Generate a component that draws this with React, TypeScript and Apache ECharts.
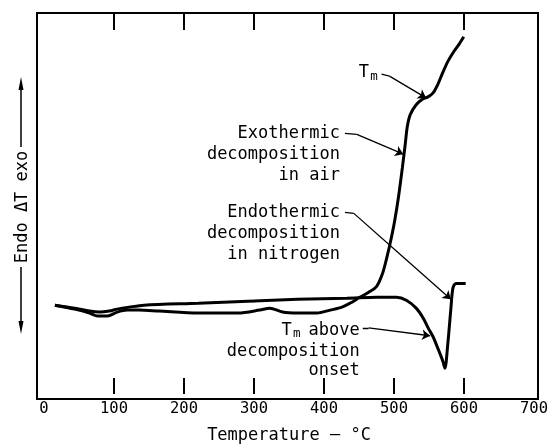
import { useEffect, useRef } from "react";
import * as echarts from "echarts";

// x axis: temperature (°C); y axis: ΔT (arbitrary units, no labels)
const xTickLabels = [0, 100, 200, 300, 400, 500, 600, 700];
const xTickMarks = [100, 200, 300, 400, 500, 600];

// Exothermic decomposition in air
const airCurve: [number, number][] = [
  [15.6, 90], [43.8, 86], [65.1, 82], [76.4, 79], [90.5, 79], [104.6, 83],
  [118.8, 85], [135.8, 85], [164, 84], [220.6, 82], [277.2, 82], [308.3, 85],
  [322.4, 87], [340.8, 83], [362, 82], [390.3, 82], [408.7, 85], [425.7, 88],
  [439.8, 93], [451.1, 98], [463.8, 103], [475.2, 109], [483.6, 122],
  [489.3, 137], [494.9, 154], [500.6, 174], [506.3, 199], [511.9, 229],
  [516.2, 254], [519, 271], [523.2, 283], [531.7, 293], [541.6, 299],
  [548.7, 301], [555.8, 305], [562.8, 314], [569.9, 326], [577, 337],
  [585.5, 347], [592.6, 354], [599.6, 362],
];

// Endothermic decomposition in nitrogen
const n2Curve: [number, number][] = [
  [15.6, 90], [43.8, 87], [65.1, 84], [79.2, 83], [93.3, 84], [104.6, 86],
  [121.6, 88], [142.8, 90], [220.6, 92], [291.3, 94], [362, 96], [432.7, 97],
  [475.2, 98], [503.4, 98], [517.6, 95], [531.7, 87], [541.6, 77],
  [548.7, 67], [555.8, 58], [562.8, 46], [569.9, 33], [572.7, 26],
  [577, 52], [581.2, 86], [584.1, 107], [588.3, 112], [595.4, 112], [602.4, 112],
];

// Leader lines (data coordinates): short dash, then arrow segment to the curve
const leaderTm: [number, number][] = [[482.2, 324], [493.5, 322], [545.9, 300]];
const leaderExo: [number, number][] = [[429.9, 264], [446.9, 263], [513.3, 243]];
const leaderEndo: [number, number][] = [[429.9, 184], [442.6, 183], [581.2, 96]];
const leaderOnset: [number, number][] = [[455.4, 67], [463.8, 67], [551.5, 59]];
const leaders = [leaderTm, leaderExo, leaderEndo, leaderOnset];

// Text blocks: right edge (°C), line centres (ΔT units)
const exoLines = ["Exothermic", "decomposition", "in air"];
const exoAnchor = { x: 422.8, ys: [265, 244, 223] };
const endoLines = ["Endothermic", "decomposition", "in nitrogen"];
const endoAnchor = { x: 422.8, ys: [185, 164, 143] };
const onsetLines = ["above", "decomposition", "onset"];
const onsetAnchor = { x: 451.1, ys: [66, 45, 25] };
const tmTopAnchor = { x: 449.7, y: 327 };

const FONT = "'DejaVu Sans Mono', monospace";
const FS = 17;
const CW = FS * 0.602;
const SUB = 12.5;

export default function App() {
  const ref = useRef<HTMLDivElement>(null);
  useEffect(() => {
    const chart = echarts.init(ref.current!, null, { renderer: "svg" });
    const tickStyle = { color: "#000", width: 2 };
    chart.setOption({
      animation: false,
      grid: { left: 44, right: 12, top: 13, bottom: 48 },
      xAxis: [
        {
          type: "value", min: 0, max: 700, interval: 100, position: "bottom",
          axisLine: { show: false },
          axisTick: { show: true, inside: true, length: 16, lineStyle: tickStyle, customValues: xTickMarks },
          axisLabel: { customValues: xTickLabels, color: "#000", fontFamily: FONT, fontSize: 15.5, margin: 6 },
          splitLine: { show: false },
          name: "Temperature — °C", nameLocation: "middle", nameGap: 31,
          nameTextStyle: { color: "#000", fontFamily: FONT, fontSize: FS },
        },
        {
          type: "value", min: 0, max: 700, interval: 100, position: "top",
          axisLine: { show: false },
          axisTick: { show: true, inside: true, length: 17, lineStyle: tickStyle, customValues: xTickMarks },
          axisLabel: { show: false },
          splitLine: { show: false },
        },
      ],
      yAxis: { type: "value", min: 0, max: 386, show: false },
      series: [
        { type: "line", data: airCurve, symbol: "none", smooth: 0.3, lineStyle: { color: "#000", width: 3 } },
        { type: "line", data: n2Curve, symbol: "none", smooth: 0.3, lineStyle: { color: "#000", width: 3 } },
        {
          type: "lines", coordinateSystem: "cartesian2d",
          data: leaders.map((c) => ({ coords: [c[0], c[1]] })),
          symbol: ["none", "none"],
          lineStyle: { color: "#000", width: 1.3, opacity: 1 },
        },
        {
          type: "lines", coordinateSystem: "cartesian2d",
          data: leaders.map((c) => ({ coords: [c[1], c[2]] })),
          symbol: ["none", "arrow"], symbolSize: 8,
          lineStyle: { color: "#000", width: 1.3, opacity: 1 },
        },
      ],
    });

    const px = (x: number, y: number) =>
      chart.convertToPixel({ xAxisIndex: 0, yAxisIndex: 0 }, [x, y]) as number[];

    const txt = (text: string, x: number, y: number, align: string, size = FS) => ({
      type: "text",
      x, y,
      style: {
        text, x: 0, y: 0, fill: "#000", fontFamily: FONT, fontSize: size,
        align, textAlign: align, verticalAlign: "middle", textVerticalAlign: "middle",
      },
    });

    const g: any[] = [];
    // frame
    g.push({ type: "rect", shape: { x: 37, y: 13, width: 501, height: 386 }, style: { fill: "none", stroke: "#000", lineWidth: 2 } });
    // y axis label with arrows
    g.push({ type: "line", shape: { x1: 21, y1: 86, x2: 21, y2: 147 }, style: { stroke: "#000", lineWidth: 1.5 } });
    g.push({ type: "polygon", shape: { points: [[21, 77], [18.5, 90], [23.5, 90]] }, style: { fill: "#000" } });
    g.push({ type: "line", shape: { x1: 21, y1: 267, x2: 21, y2: 325 }, style: { stroke: "#000", lineWidth: 1.5 } });
    g.push({ type: "polygon", shape: { points: [[21, 334], [18.5, 321], [23.5, 321]] }, style: { fill: "#000" } });
    g.push({ ...txt("Endo ΔT exo", 0, 0, "center"), x: 21, y: 207, rotation: Math.PI / 2 });

    const block = (lines: string[], a: { x: number; ys: number[] }) => {
      lines.forEach((l, i) => {
        const p = px(a.x, a.ys[i]);
        g.push(txt(l, p[0], p[1], "right"));
      });
    };
    block(exoLines, exoAnchor);
    block(endoLines, endoAnchor);
    block(onsetLines, onsetAnchor);
    // subscripted T_m in onset block
    const po = px(onsetAnchor.x, onsetAnchor.ys[0]);
    const mRight = po[0] - (onsetLines[0].length + 0.8) * CW;
    g.push(txt("m", mRight, po[1] + 4, "right", SUB));
    g.push(txt("T", mRight - SUB * 0.602 - 1.2, po[1], "right"));
    // top T_m
    const pt = px(tmTopAnchor.x, tmTopAnchor.y);
    g.push(txt("T", pt[0], pt[1], "left"));
    g.push(txt("m", pt[0] + CW + 1.2, pt[1] + 4, "left", SUB));

    chart.setOption({ graphic: g });
    return () => chart.dispose();
  }, []);
  return <div ref={ref} style={{ position: "fixed", left: 0, top: 0, width: 551, height: 447 }} />;
}
